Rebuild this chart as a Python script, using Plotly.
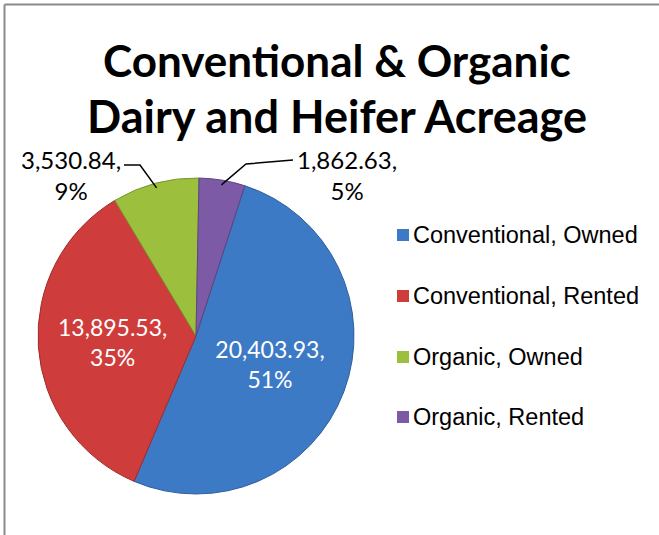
import math
import plotly.graph_objects as go

labels = ["Conventional, Owned", "Conventional, Rented", "Organic, Owned", "Organic, Rented"]
values = [20403.93, 13895.53, 3530.84, 1862.63]
colors = ["#3D7AC6", "#CE3D3B", "#9CC03E", "#7D5AA6"]
edge_colors = ["#2F5F9C", "#9E2C2B", "#789630", "#5D4380"]
title_lines = ["Conventional & Organic", "Dairy and Heifer Acreage"]

W, H = 659, 535
cx, cy, R = 196, 336, 158  # pie center/radius in pixels (layout)
rotation = 18

total = sum(values)
pct = [round(v / total * 100) for v in values]
texts = [f"{v:,.2f},<br>{p}%" for v, p in zip(values, pct)]
inside = [True, True, False, False]

fig = go.Figure()
fig.add_trace(go.Pie(
    labels=labels, values=values, sort=False, direction="clockwise", rotation=rotation,
    marker=dict(colors=colors, line=dict(color=edge_colors, width=1)),
    text=[t if i else "" for t, i in zip(texts, inside)],
    textinfo="text", textposition="inside", insidetextorientation="horizontal",
    insidetextfont=dict(color="white", size=23, family="Lato"),
    showlegend=False, hoverinfo="label+value+percent",
    domain=dict(x=[(cx - R) / W, (cx + R) / W], y=[(H - cy - R) / H, (H - cy + R) / H]),
))

def P(x, y):
    return x / W, 1 - y / H

# outside labels with leader lines: (label center, line start, elbow)
layout_out = {2: ((71, 175), (124, 165), (140, 165)),
              3: ((347, 175), (293, 160), (246, 164))}
cum = 0
for i, v in enumerate(values):
    mid = rotation + (cum + v / 2) / total * 360
    cum += v
    if inside[i]:
        continue
    a = math.radians(mid)
    px = cx + 0.97 * R * math.sin(a)
    py = cy - 0.97 * R * math.cos(a)
    (lx, ly), (sx, sy), (ex, ey) = layout_out[i]
    fx, fy = P(lx, ly)
    fig.add_annotation(x=fx, y=fy, xref="paper", yref="paper", text=texts[i], showarrow=False,
                       xanchor="center", yanchor="middle", align="center",
                       font=dict(size=24, family="Lato", color="black"))
    pts = [P(sx, sy), P(ex, ey), P(px, py)]
    path = "M {} {} L {} {} L {} {}".format(*[c for p in pts for c in p])
    fig.add_shape(type="path", xref="paper", yref="paper", path=path,
                  line=dict(color="black", width=1.5))

# legend
leg_y = [235, 296, 357, 417]
for lab, col, ly in zip(labels, colors, leg_y):
    fig.add_shape(type="rect", xref="paper", yref="paper",
                  x0=397 / W, x1=409 / W, y0=1 - (ly + 6) / H, y1=1 - (ly - 6) / H,
                  fillcolor=col, line=dict(color=col, width=0))
    fig.add_annotation(x=411 / W, y=1 - ly / H, xref="paper", yref="paper",
                       text=lab, showarrow=False, xanchor="left", yanchor="middle",
                       font=dict(size=23.5, family="Liberation Sans", color="black"))

# title (two lines)
for line, ty, fs in zip(title_lines, [60, 116], [44, 45]):
    fig.add_annotation(x=337 / W, y=1 - ty / H, xref="paper", yref="paper",
                       text=f"<b>{line}</b>", showarrow=False, xanchor="center", yanchor="middle",
                       font=dict(size=fs, family="Lato", color="black"))

# frame
fig.add_shape(type="line", xref="paper", yref="paper", x0=4.5 / W, x1=1, y0=1 - 4.5 / H, y1=1 - 4.5 / H,
              line=dict(color="#8A8A8A", width=2))
fig.add_shape(type="line", xref="paper", yref="paper", x0=4.5 / W, x1=4.5 / W, y0=0, y1=1 - 4.5 / H,
              line=dict(color="#8A8A8A", width=2))

fig.update_layout(
    width=W, height=H, margin=dict(l=0, r=0, t=0, b=0),
    paper_bgcolor="white", plot_bgcolor="white",
)

fig.write_html("out.html", config={"displayModeBar": False},
               post_script="document.body.style.margin='0';document.body.style.overflow='hidden';")
